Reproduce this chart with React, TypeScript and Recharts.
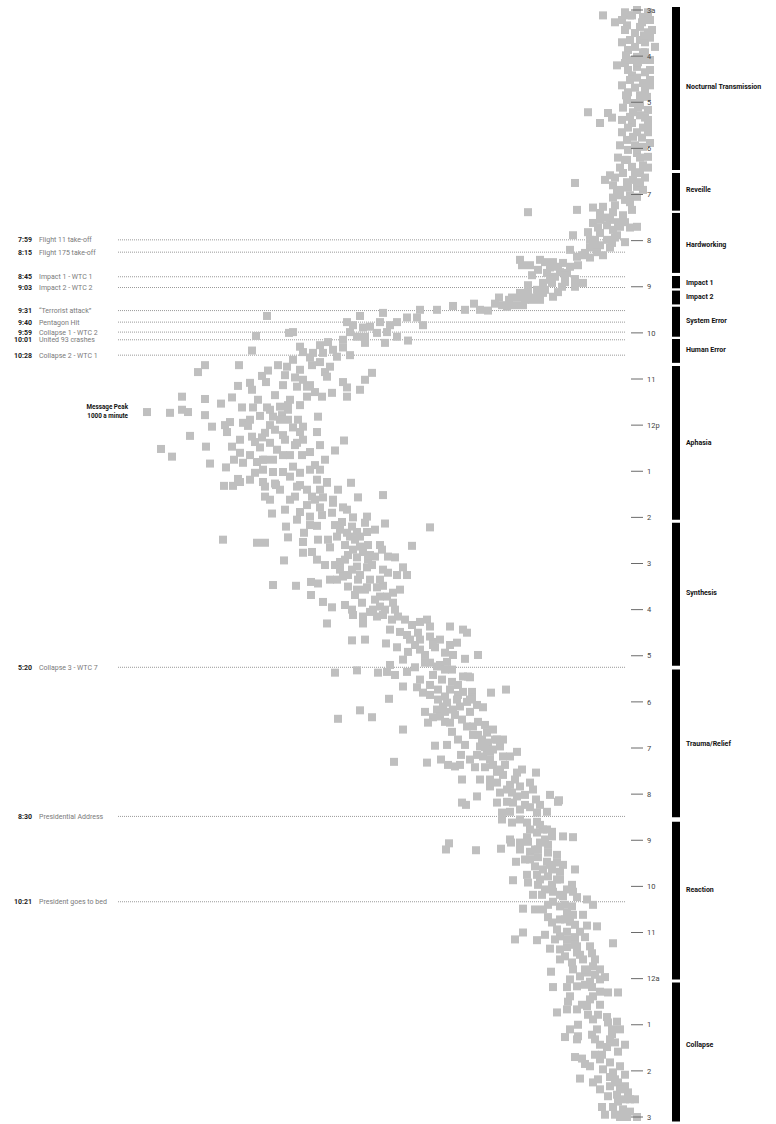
import React from 'react';
import { ScatterChart, Scatter, XAxis, YAxis, ReferenceLine, ReferenceArea } from 'recharts';

// [minutes after 3:00 am, messages per minute]
const pointsNight: [number, number][] = [
  [0, 42], [7, 56], [9, 30], [7, 110], [16, 86], [20, 62], [22, 36], [29, 20], [30, 46], [39, 36], [36, 16], [48, 6],
  [48, 46], [55, 30], [61, 42], [72, 82], [69, 66], [74, 42], [81, 26], [88, 42], [95, 30], [101, 46], [104, 26],
  [111, 36], [113, 22], [121, 50], [127, 70], [130, 20], [133, 140], [134, 100], [140, 92], [147, 116], [139, 56],
  [137, 36], [147, 52], [153, 30], [159, 42], [169, 62], [165, 50], [173, 16], [178, 30], [186, 42], [195, 62],
  [204, 52], [202, 30], [212, 70], [212, 36], [224, 62], [221, 106], [228, 90], [225, 166], [230, 42], [234, 76],
  [234, 30], [241, 56], [16, 32], [39, 56], [65, 26], [85, 52], [124, 36], [150, 20], [182, 60], [191, 20], [221, 50],
  [244, 90],
  [3, 66], [3, 20], [13, 16], [13, 72], [26, 66], [26, 12], [42, 72], [42, 26], [52, 60], [65, 56], [65, 16],
  [78, 60], [78, 16], [91, 56], [91, 16], [107, 60], [117, 36], [117, 62], [127, 40], [143, 72], [143, 20],
  [159, 72], [159, 20], [176, 76], [176, 46], [192, 80], [192, 36], [205, 76], [205, 20], [218, 86], [218, 26],
  [231, 60],
  [7, 52], [33, 28], [59, 64], [68, 40], [111, 64], [133, 50], [140, 26], [153, 60], [166, 32], [195, 66],
  [211, 46], [215, 96], [224, 36], [237, 82], [55, 26], [98, 72], [98, 16],
];

const pointsMorning: [number, number][] = [
  [241, 76], [243, 42], [250, 56], [263, 260], [260, 162], [257, 130], [256, 110], [263, 90], [267, 70], [264, 116],
  [273, 96], [276, 80], [277, 130], [280, 102], [282, 76], [282, 42], [283, 56], [286, 90], [290, 116], [293, 170],
  [293, 82], [302, 66], [299, 126], [299, 102], [306, 116], [309, 96], [309, 136], [316, 146], [319, 110], [321, 162],
  [319, 152], [325, 276], [332, 272], [325, 236], [328, 210], [329, 190], [334, 176], [338, 240], [335, 216],
  [341, 196], [342, 222], [342, 182], [347, 206], [355, 150], [360, 166], [360, 192], [355, 212], [355, 230],
  [358, 260], [368, 276], [364, 242], [368, 230], [373, 210], [374, 250], [374, 276], [377, 252], [384, 286],
  [386, 302], [384, 270], [384, 312], [391, 340], [382, 368], [385, 410], [390, 442], [374, 318], [377, 298],
  [247, 66], [254, 86], [260, 52], [270, 106], [276, 66], [283, 120], [296, 86], [289, 140], [306, 130], [303, 92],
  [315, 122], [322, 136], [312, 176], [332, 256], [328, 226], [334, 200], [345, 252], [350, 166], [354, 186],
  [364, 226], [367, 200], [367, 260], [374, 292], [377, 236], [377, 266], [382, 326], [390, 356], [390, 386],
  [273, 116], [299, 136], [332, 160], [345, 186], [351, 216], [371, 240],
];

const pointsMidday: [number, number][] = [
  [398, 782], [420, 738], [419, 730], [424, 804], [443, 812], [398, 596], [406, 622], [410, 610], [419, 616],
  [413, 590], [412, 576], [394, 550], [406, 556], [410, 536], [406, 522], [400, 502], [390, 476], [400, 482],
  [410, 470], [419, 542], [420, 562], [425, 522], [430, 500], [433, 546], [425, 586], [433, 586], [425, 602],
  [429, 630], [432, 660], [436, 676], [438, 716], [445, 710], [446, 690], [446, 670], [442, 650], [451, 642],
  [439, 630], [449, 616], [455, 730], [452, 696], [462, 692], [464, 742], [462, 906], [471, 920], [462, 838],
  [469, 780], [476, 792], [485, 816], [484, 784], [494, 812], [489, 840], [488, 750], [478, 726], [481, 710],
  [490, 722], [490, 702], [471, 666], [477, 662], [484, 630], [472, 572], [481, 586], [494, 596], [491, 622],
  [503, 622], [503, 672], [498, 652], [503, 702], [514, 716], [514, 740], [516, 756], [517, 782], [507, 800],
  [517, 810], [517, 832], [504, 852], [512, 874], [506, 906], [503, 952], [523, 1022], [524, 976], [520, 952],
  [523, 940], [527, 906], [542, 892], [540, 866], [536, 856], [537, 830], [541, 820], [549, 862], [528, 796],
  [529, 770], [527, 752], [533, 756], [533, 740], [533, 720], [520, 740], [529, 680], [546, 766], [550, 786],
  [555, 812], [556, 792], [553, 750], [543, 730], [549, 716], [542, 710], [549, 682], [554, 936], [568, 904],
  [571, 994], [581, 972], [568, 852], [576, 836], [562, 806], [569, 796], [563, 776], [572, 762], [579, 750],
  [563, 722], [559, 710], [579, 712], [575, 696], [573, 646], [560, 628], [590, 896], [595, 864], [585, 848],
  [589, 830], [588, 802], [585, 790], [585, 770], [602, 806], [598, 790], [601, 770], [601, 750], [594, 730],
  [602, 716], [607, 736], [592, 686], [598, 676], [611, 682], [614, 662], [610, 840], [619, 868], [619, 850],
  [614, 790], [616, 766], [633, 786], [620, 722], [624, 702], [633, 692], [624, 640], [615, 614], [634, 600],
  [631, 550], [637, 650], [633, 726], [634, 670],
  [458, 676], [462, 760], [468, 716], [464, 656], [501, 766], [497, 686], [507, 736], [540, 776], [559, 746],
  [566, 676], [579, 816], [598, 696], [624, 756], [611, 816], [585, 666],
  [475, 746], [488, 696], [520, 776], [533, 816], [566, 726], [585, 786], [618, 716], [579, 736], [637, 686],
  [637, 776], [559, 836],
];

const pointsAfternoon: [number, number][] = [
  [614, 836], [620, 786], [618, 764], [624, 676], [615, 662], [637, 736], [644, 702], [647, 676], [641, 650],
  [647, 630], [654, 652], [650, 622], [655, 772], [650, 746], [653, 716], [663, 722], [659, 696], [671, 682],
  [672, 744], [670, 696], [660, 610], [659, 582], [667, 586], [668, 546], [673, 456], [672, 612], [676, 636],
  [680, 622], [679, 602], [679, 582], [685, 642], [685, 616], [685, 596], [689, 870], [693, 802], [693, 786],
  [686, 740], [680, 708], [692, 710], [689, 680], [689, 660], [698, 596], [696, 580], [696, 556], [702, 610],
  [705, 590], [702, 552], [697, 492], [706, 710], [705, 692], [715, 682], [722, 666], [716, 748], [718, 636],
  [722, 646], [709, 620], [712, 602], [715, 580], [711, 566], [711, 540], [712, 526], [725, 510], [725, 582],
  [724, 602], [728, 636], [737, 630], [741, 642], [735, 620], [732, 540], [735, 522], [735, 502], [728, 550],
  [741, 600], [741, 576], [750, 620], [754, 602], [751, 582], [751, 562], [749, 550], [754, 516], [758, 530],
  [748, 770], [749, 724], [744, 694], [746, 680], [761, 694], [761, 606], [763, 556], [763, 542], [771, 592],
  [776, 556], [771, 530], [770, 670], [777, 652], [780, 612], [787, 610], [789, 590], [783, 576], [789, 562],
  [787, 550], [793, 532], [789, 520], [780, 570], [798, 662], [798, 590], [800, 492], [796, 476], [793, 462],
  [802, 456], [809, 516], [813, 502], [810, 480], [819, 476], [832, 476], [815, 456], [822, 450], [802, 416],
  [806, 390], [810, 382], [826, 416], [823, 402], [829, 446], [836, 426], [839, 410], [835, 500], [845, 510],
  [820, 612], [819, 586], [824, 544], [829, 522], [844, 386], [839, 360], [848, 422], [849, 456], [852, 436],
  [852, 536], [862, 646], [859, 602], [862, 560], [861, 542], [861, 502], [865, 450], [867, 390], [867, 380],
  [657, 672], [666, 632], [676, 566], [699, 656], [696, 626], [722, 572], [735, 596], [741, 656], [767, 566],
  [774, 626], [780, 526], [819, 496], [819, 436], [839, 466], [855, 486],
  [670, 646], [689, 606], [709, 576], [728, 612], [754, 586], [780, 546], [806, 536], [793, 506], [826, 486],
  [715, 626], [741, 556],
];

const pointsEvening: [number, number][] = [
  [826, 450], [849, 466], [854, 442], [865, 526], [871, 432], [858, 412], [874, 412], [868, 376], [880, 510],
  [881, 482], [888, 470], [878, 456], [891, 456], [884, 440], [893, 426], [884, 416], [891, 400], [887, 390],
  [887, 372], [894, 372], [888, 334], [884, 304], [896, 538], [901, 422], [897, 402], [906, 396], [900, 382],
  [910, 410], [906, 430], [910, 442], [913, 466], [920, 450], [927, 460], [919, 436], [926, 426], [927, 416],
  [939, 412], [904, 362], [907, 350], [913, 376], [911, 596], [920, 572], [922, 640], [936, 510], [932, 382],
  [932, 370], [930, 346], [940, 342], [936, 330], [943, 370], [949, 352], [953, 340], [949, 322], [949, 310],
  [958, 316], [962, 330], [962, 342], [958, 356], [969, 362], [971, 350], [975, 336], [971, 310], [971, 296],
  [965, 282], [956, 386], [956, 422], [957, 446], [969, 394], [975, 434], [982, 420], [984, 406], [982, 396],
  [985, 366], [985, 346], [982, 330], [991, 322], [995, 310], [992, 282], [988, 272], [992, 244], [979, 462],
  [978, 528], [1001, 392], [1001, 356], [1001, 336], [1010, 336], [1005, 322], [1018, 316], [1014, 302],
  [1018, 292], [1023, 282], [1010, 276], [1005, 256], [1014, 250], [1021, 216], [1028, 198], [1027, 244],
  [1030, 302], [1031, 290], [1031, 322], [1023, 362], [1031, 392], [1034, 384], [1044, 312], [1043, 296],
  [1040, 276], [1037, 256], [1044, 242], [1043, 222], [1053, 312], [1057, 292], [1057, 262], [1056, 242],
  [1066, 230], [1069, 212], [1075, 190], [1076, 170], [1079, 296], [1076, 262],
  [871, 476], [878, 400], [913, 426], [923, 392], [926, 360], [949, 326], [959, 346], [982, 306], [975, 376],
  [1008, 296], [1021, 266], [1034, 236], [1053, 276], [1066, 256],
  [858, 426], [897, 440], [917, 406], [943, 360], [965, 336], [988, 316], [1001, 286], [1034, 266], [949, 400],
  [897, 376],
];

const pointsLate: [number, number][] = [
  [1030, 200], [1060, 236], [1066, 222], [1070, 242], [1075, 212], [1084, 418], [1092, 424], [1093, 364],
  [1091, 314], [1083, 294], [1083, 276], [1082, 260], [1083, 236], [1086, 220], [1092, 276], [1095, 256],
  [1092, 240], [1096, 220], [1099, 202], [1105, 266], [1108, 284], [1102, 240], [1108, 222], [1109, 202],
  [1112, 190], [1114, 246], [1118, 230], [1118, 212], [1121, 196], [1118, 166], [1125, 262], [1125, 242],
  [1127, 220], [1131, 202], [1132, 290], [1135, 260], [1138, 240], [1138, 212], [1147, 210], [1138, 172],
  [1144, 182], [1147, 170], [1151, 250], [1151, 232], [1153, 190], [1154, 162], [1157, 142], [1164, 130],
  [1160, 210], [1166, 196], [1166, 172], [1169, 270], [1170, 246], [1170, 230], [1180, 220], [1187, 212],
  [1174, 182], [1177, 170], [1177, 150], [1183, 196], [1186, 176], [1191, 142], [1192, 122], [1196, 202],
  [1199, 182], [1199, 156], [1200, 270], [1209, 286], [1210, 242], [1203, 226], [1221, 216], [1205, 196],
  [1209, 182], [1206, 166], [1206, 146], [1219, 182], [1218, 162], [1218, 136], [1231, 186], [1226, 162],
  [1227, 132], [1214, 90], [1239, 172], [1235, 150], [1244, 130], [1248, 116], [1251, 214], [1248, 170],
  [1252, 142], [1261, 176], [1257, 156], [1264, 136], [1261, 116], [1258, 106], [1271, 210], [1271, 182],
  [1270, 162], [1271, 132], [1277, 116], [1278, 100], [1278, 80], [1283, 176], [1283, 130],
  [1079, 226], [1105, 256], [1131, 196], [1144, 226], [1164, 186], [1190, 166], [1209, 206], [1229, 156],
  [1268, 146], [1235, 196], [1235, 126],
  [1092, 246], [1112, 216], [1131, 236], [1151, 196], [1183, 186], [1216, 166], [1248, 146], [1255, 126],
  [1164, 220], [1222, 196],
];

const pointsSmallHours: [number, number][] = [
  [1290, 180], [1287, 136], [1304, 202], [1300, 182], [1300, 162], [1296, 142], [1307, 140], [1313, 130],
  [1310, 102], [1317, 100], [1316, 82], [1326, 76], [1326, 92], [1326, 122], [1333, 132], [1339, 126],
  [1336, 186], [1335, 160], [1339, 162], [1339, 96], [1343, 86], [1349, 102], [1355, 80], [1359, 126],
  [1362, 166], [1364, 152], [1374, 136], [1365, 116], [1369, 96], [1374, 76], [1378, 110], [1382, 90],
  [1390, 156], [1395, 130], [1388, 96], [1395, 80], [1400, 66], [1400, 96], [1413, 100], [1411, 82],
  [1408, 60], [1417, 56], [1420, 80], [1427, 112], [1427, 90], [1430, 70], [1437, 86], [1440, 62], [1440, 42],
  [1440, 76],
  [1294, 152], [1307, 120], [1346, 116], [1346, 66], [1371, 146], [1385, 66], [1404, 116], [1404, 76],
  [1417, 46], [1437, 106], [1320, 160], [1326, 176],
  [1294, 116], [1332, 92], [1359, 112], [1391, 86], [1417, 66], [1433, 56], [1391, 120],
];

const hourTicks = [0, 60, 120, 180, 240, 300, 360, 420, 480, 540, 600, 660, 720, 780, 840, 900, 960, 1020, 1080, 1140, 1200, 1260, 1320, 1380, 1440];
const hourLabels = ['3a', '4', '5', '6', '7', '8', '9', '10', '11', '12p', '1', '2', '3', '4', '5', '6', '7', '8', '9', '10', '11', '12a', '1', '2', '3'];

const eventTimes = ['7:59', '8:15', '8:45', '9:03', '9:31', '9:40', '9:59', '10:01', '10:28', '5:20', '8:30', '10:21'];
const eventNames = [
  'Flight 11 take-off', 'Flight 175 take-off', 'Impact 1 - WTC 1', 'Impact 2 - WTC 2', '\u201CTerrorist attack\u201D',
  'Pentagon Hit', 'Collapse 1 - WTC 2', 'United 93 crashes', 'Collapse 2 - WTC 1', 'Collapse 3 - WTC 7',
  'Presidential Address', 'President goes to bed',
];
const eventAt = [299, 315, 347, 361, 391, 406, 419, 429, 449, 855, 1049, 1160];

const phaseNames = ['Nocturnal Transmission', 'Reveille', 'Hardworking', 'Impact 1', 'Impact 2', 'System Error', 'Human Error', 'Aphasia', 'Synthesis', 'Trauma/Relief', 'Reaction', 'Collapse'];
const phaseStart = [-4, 212, 264, 346, 365, 386, 428, 463, 667, 858, 1056, 1265];
const phaseEnd = [208, 261, 342, 362, 383, 425, 459, 663, 853, 1050, 1261, 1446];
const phaseLabelAt = [99, 233, 305, 354, 373, 404, 442, 563, 758, 954, 1144, 1346];

const peak = { m: 523, v: 1022 };

const points = [
  ...pointsNight, ...pointsMorning, ...pointsMidday, ...pointsAfternoon,
  ...pointsEvening, ...pointsLate, ...pointsSmallHours,
].map(([m, v]) => ({ m, v }));

const GREY = '#bfbfbf';

const Square = (props: any) => (
  <rect x={props.cx - 4} y={props.cy - 4} width={8} height={8} fill={GREY} />
);

const PeakLabel = (props: any) => (
  <g>
    <text x={props.cx - 19} y={props.cy - 3} textAnchor="end" fontSize={6.3} fontWeight={700} fill="#111">Message Peak</text>
    <text x={props.cx - 19} y={props.cy + 6} textAnchor="end" fontSize={6.3} fontWeight={700} fill="#111">1000 a minute</text>
  </g>
);

const HourTick = (props: any) => {
  const { x, y, payload } = props;
  const label = hourLabels[hourTicks.indexOf(payload.value)];
  return (
    <g>
      <line x1={x - 27} x2={x - 15} y1={y} y2={y} stroke="#6b6b6b" strokeWidth={1} />
      <text x={x - 11} y={y} dy="0.35em" fontSize={7.5} fill="#444">{label}</text>
    </g>
  );
};

const EventTick = (props: any) => {
  const { x, y, payload } = props;
  const i = eventAt.indexOf(payload.value);
  if (i < 0) return null;
  return (
    <g>
      <text x={x - 83} y={y} dy="0.35em" textAnchor="end" fontSize={7} fontWeight={700} fill="#222">{eventTimes[i]}</text>
      <text x={x - 76} y={y} dy="0.35em" fontSize={7} fill="#7a7a7a">{eventNames[i]}</text>
    </g>
  );
};

const App = () => {
  return (
    <div style={{ position: 'absolute', left: 0, top: 0, width: 776, height: 1124, background: '#fff', fontFamily: 'Roboto, sans-serif' }}>
      <ScatterChart width={776} height={1124} margin={{ top: 10, right: 0, bottom: 7, left: 0 }}>
        <XAxis type="number" dataKey="v" domain={[0, 1086]} reversed hide />
        <YAxis
          yAxisId="events"
          orientation="left"
          type="number"
          width={115}
          domain={[0, 1440]}
          reversed
          allowDataOverflow
          ticks={eventAt}
          interval={0}
          axisLine={false}
          tickLine={false}
          tickSize={0}
          tickMargin={0}
          tick={<EventTick />}
        />
        <YAxis
          yAxisId="hours"
          orientation="right"
          type="number"
          dataKey="m"
          width={118}
          domain={[0, 1440]}
          reversed
          ticks={hourTicks}
          interval={0}
          axisLine={false}
          tickLine={false}
          tickSize={0}
          tickMargin={0}
          tick={<HourTick />}
        />
        {eventAt.map((at, i) => (
          <ReferenceLine
            key={'ev' + i}
            yAxisId="hours"
            segment={[{ x: 1080, y: at }, { x: 64, y: at }]}
            stroke="#9a9a9a"
            strokeWidth={1}
            strokeDasharray="1 1"
          />
        ))}
        {phaseNames.map((name, i) => (
          <ReferenceArea
            key={'ph' + i}
            yAxisId="hours"
            x1={-28}
            x2={-44}
            y1={phaseStart[i]}
            y2={phaseEnd[i]}
            fill="#000"
            fillOpacity={1}
            stroke="none"
            ifOverflow="visible"
            label={(p: any) => {
              const vb = p.viewBox || {};
              const y = vb.y + ((phaseLabelAt[i] - phaseStart[i]) / (phaseEnd[i] - phaseStart[i])) * vb.height;
              return (
                <text x={vb.x + vb.width + 6} y={y} dy="0.35em" fontSize={7} fontWeight={700} fill="#111">{name}</text>
              );
            }}
          />
        ))}
        <Scatter yAxisId="hours" data={points} shape={<Square />} isAnimationActive={false} />
        <Scatter yAxisId="hours" data={[peak]} shape={<PeakLabel />} isAnimationActive={false} />
      </ScatterChart>
    </div>
  );
};

export default App;
